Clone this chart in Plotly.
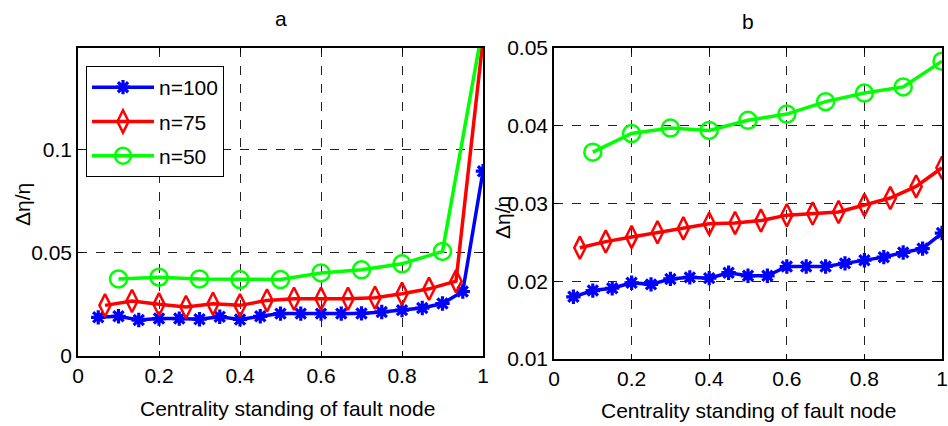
import plotly.graph_objects as go

# ---------------- data ----------------
# panel a
a_x100 = [0.05, 0.10, 0.15, 0.20, 0.25, 0.30, 0.35, 0.40, 0.45, 0.50,
          0.55, 0.60, 0.65, 0.70, 0.75, 0.80, 0.85, 0.90, 0.95, 1.00]
a_y100 = [0.0187, 0.0192, 0.0174, 0.0181, 0.0181, 0.0178, 0.0190, 0.0177, 0.0192, 0.0205,
          0.0205, 0.0205, 0.0205, 0.0206, 0.0213, 0.0222, 0.0232, 0.0254, 0.0312, 0.0894]
a_x75 = [1/15, 2/15, 3/15, 4/15, 5/15, 6/15, 7/15, 8/15, 9/15, 10/15,
         11/15, 12/15, 13/15, 14/15, 1.0]
a_y75 = [0.0245, 0.0266, 0.0250, 0.0237, 0.0253, 0.0245, 0.0269, 0.0277, 0.0277, 0.0277,
         0.0282, 0.0301, 0.0325, 0.0362, 0.153]
a_x50 = [0.1, 0.2, 0.3, 0.4, 0.5, 0.6, 0.7, 0.8, 0.9, 1.0]
a_y50 = [0.0373, 0.0381, 0.0373, 0.0370, 0.0370, 0.0402, 0.0417, 0.0446, 0.0506, 0.160]

# panel b
b_x100 = a_x100
b_y100 = [0.0180, 0.0188, 0.0191, 0.0198, 0.0196, 0.0203, 0.0205, 0.0204, 0.0211, 0.0207,
          0.0207, 0.0219, 0.0219, 0.0219, 0.0223, 0.0227, 0.0231, 0.0237, 0.0242, 0.0262]
b_x75 = a_x75
b_y75 = [0.0243, 0.0251, 0.0257, 0.0263, 0.0268, 0.0274, 0.0275, 0.0278, 0.0285, 0.0287,
         0.0289, 0.0298, 0.0307, 0.0322, 0.0346]
b_x50 = a_x50
b_y50 = [0.0366, 0.0390, 0.0397, 0.0394, 0.0407, 0.0415, 0.0431, 0.0442, 0.0450, 0.0483]

names = ["n=100", "n=75", "n=50"]
colors = ["#0000FF", "#FF0000", "#00FF00"]

x_ticks = [0, 0.2, 0.4, 0.6, 0.8, 1.0]
x_ticklabels = ["0", "0.2", "0.4", "0.6", "0.8", "1"]
a_yticks = [0, 0.05, 0.1]
a_yticklabels = ["0", "0.05", "0.1"]
b_yticks = [0.01, 0.02, 0.03, 0.04, 0.05]
b_yticklabels = ["0.01", "0.02", "0.03", "0.04", "0.05"]

FONT = "Liberation Sans Narrow, Liberation Sans, Arial, sans-serif"
FS = 21

fig = go.Figure()

def marker_for(i, color):
    if i == 0:
        return dict(symbol="asterisk", size=12, color=color,
                    line=dict(color=color, width=3.2))
    if i == 1:
        return dict(symbol="diamond-tall-open", size=16, color=color,
                    line=dict(color=color, width=2.5))
    return dict(symbol="circle-open", size=17, color=color,
                line=dict(color=color, width=2.5))

a_series = [(a_x100, a_y100), (a_x75, a_y75), (a_x50, a_y50)]
b_series = [(b_x100, b_y100), (b_x75, b_y75), (b_x50, b_y50)]

for i, (xs, ys) in enumerate(a_series):
    fig.add_trace(go.Scatter(x=xs, y=ys, mode="lines+markers", name=names[i],
                             legendgroup=names[i], showlegend=True,
                             line=dict(color=colors[i], width=3.5),
                             marker=marker_for(i, colors[i]),
                             xaxis="x", yaxis="y"))
for i, (xs, ys) in enumerate(b_series):
    fig.add_trace(go.Scatter(x=xs, y=ys, mode="lines+markers", name=names[i],
                             legendgroup=names[i], showlegend=False,
                             line=dict(color=colors[i], width=3.5),
                             marker=marker_for(i, colors[i]),
                             xaxis="x2", yaxis="y2"))

axis_common = dict(showline=True, linecolor="black", linewidth=1.5, mirror="ticks",
                   ticks="inside", ticklen=5, tickcolor="black", tickwidth=1,
                   showgrid=True, gridcolor="#222222", griddash="dash", gridwidth=1,
                   zeroline=False, automargin=False, ticklabeloverflow="allow",
                   tickfont=dict(family=FONT, size=FS, color="black"))

fig.update_layout(
    width=948, height=426,
    margin=dict(l=0, r=0, t=0, b=0, autoexpand=False),
    paper_bgcolor="white", plot_bgcolor="white",
    font=dict(family=FONT, size=FS, color="black"),
    xaxis=dict(domain=[78/948, 483/948], range=[0, 1], tickvals=x_ticks,
               ticktext=x_ticklabels, anchor="y", **axis_common),
    yaxis=dict(domain=[1 - 356/426, 1 - 48/426], range=[0, 0.149], tickvals=a_yticks,
               ticktext=a_yticklabels, anchor="x", **axis_common),
    xaxis2=dict(domain=[554/948, 942/948], range=[0, 1], tickvals=x_ticks,
                ticktext=x_ticklabels, anchor="y2", **axis_common),
    yaxis2=dict(domain=[1 - 359/426, 1 - 48/426], range=[0.01, 0.05], tickvals=b_yticks,
                ticktext=b_yticklabels, anchor="x2", **axis_common),
    showlegend=True,
    legend=dict(x=86/948, y=1 - 66/426, xanchor="left", yanchor="top",
                bordercolor="black", borderwidth=1, bgcolor="white",
                font=dict(family=FONT, size=FS, color="black"),
                tracegroupgap=4, itemwidth=62),
    annotations=[
        dict(text="a", x=281/948, y=1 - 19/426, xref="paper", yref="paper",
             showarrow=False, xanchor="center", yanchor="middle", font=dict(size=FS)),
        dict(text="b", x=748/948, y=1 - 21/426, xref="paper", yref="paper",
             showarrow=False, xanchor="center", yanchor="middle", font=dict(size=FS)),
        dict(text="Δη/η", x=23/948, y=1 - 205/426, xref="paper", yref="paper",
             showarrow=False, textangle=-90, xanchor="center", yanchor="middle",
             font=dict(size=FS)),
        dict(text="Δη/η", x=503/948, y=1 - 218/426, xref="paper", yref="paper",
             showarrow=False, textangle=-90, xanchor="center", yanchor="middle",
             font=dict(size=FS)),
        dict(text="Centrality standing of fault node", x=287/948, y=1 - 408/426,
             xref="paper", yref="paper", showarrow=False, xanchor="center",
             yanchor="middle", font=dict(size=FS)),
        dict(text="Centrality standing of fault node", x=748/948, y=1 - 410/426,
             xref="paper", yref="paper", showarrow=False, xanchor="center",
             yanchor="middle", font=dict(size=FS)),
    ],
)

fig.write_html("out.html")
